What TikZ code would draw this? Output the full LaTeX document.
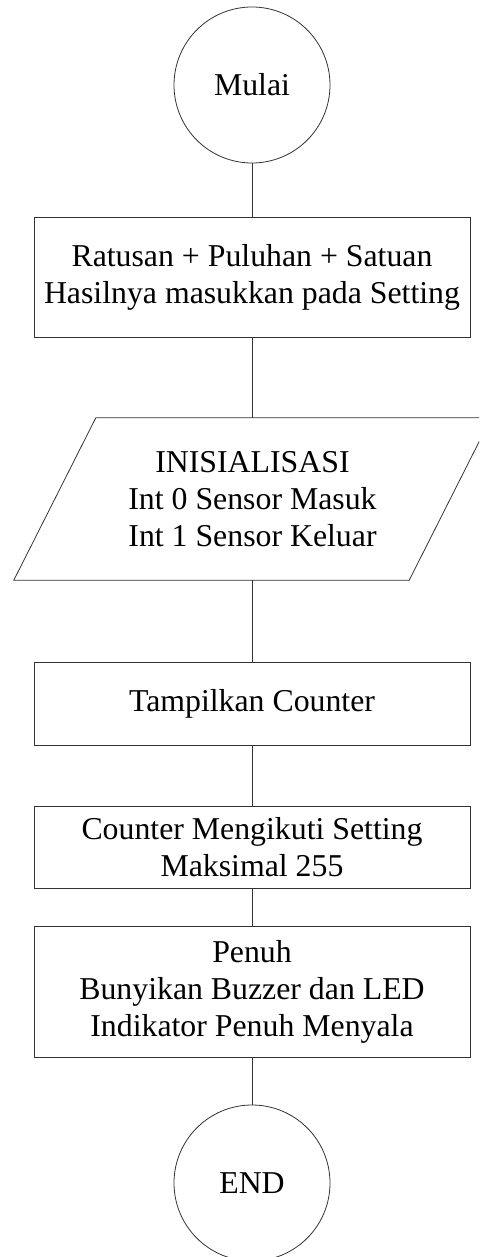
\documentclass[tikz,border=0pt]{standalone}
\usepackage{fontspec}
\setmainfont{Liberation Serif}
\begin{document}
\begin{tikzpicture}[x=1pt,y=-1pt,
  flow/.style={draw=black!80, line width=0.8pt},
  txt/.style={align=center, inner sep=0pt, font=\fontsize{31.8}{37}\selectfont},
  terminal/.style={flow, txt, circle, minimum size=156pt},
  process/.style={flow, txt, rectangle, minimum width=436pt},
  link/.style={draw=black!80, line width=0.8pt}]
\path[use as bounding box, clip] (0,0) rectangle (479,1257);

% start / end terminals
\node[terminal] (start) at (252,85) {Mulai};
\node[terminal] (stop) at (252,1183) {END};

% processing steps
\node[process, minimum height=120pt] (sum) at (252,277)
  {Ratusan + Puluhan + Satuan\\Hasilnya masukkan pada Setting};
\node[process, minimum height=83pt] (show) at (252,703.5) {Tampilkan Counter};
\node[process, minimum height=82pt] (count) at (252,847)
  {Counter Mengikuti Setting\\Maksimal 255};
\node[process, minimum height=131pt] (full) at (252,991.5)
  {Penuh\\Bunyikan Buzzer dan LED\\Indikator Penuh Menyala};

% input/output step drawn as a parallelogram around its text node
\node[txt, minimum width=395pt, minimum height=162pt] (init) at (252.5,499)
  {INISIALISASI\\Int 0 Sensor Masuk\\Int 1 Sensor Keluar};
\draw[flow] ([xshift=41pt]init.north west) -- ([xshift=41pt]init.north east)
  -- ([xshift=-41pt]init.south east) -- ([xshift=-41pt]init.south west) -- cycle;

% connectors
\draw[link] (start.south) -- (sum.north);
\draw[link] (sum.south) -- (sum.south |- init.north);
\draw[link] (sum.south |- init.south) -- (show.north);
\draw[link] (show.south) -- (count.north);
\draw[link] (count.south) -- (full.north);
\draw[link] (full.south) -- (stop.north);
\end{tikzpicture}
\end{document}
